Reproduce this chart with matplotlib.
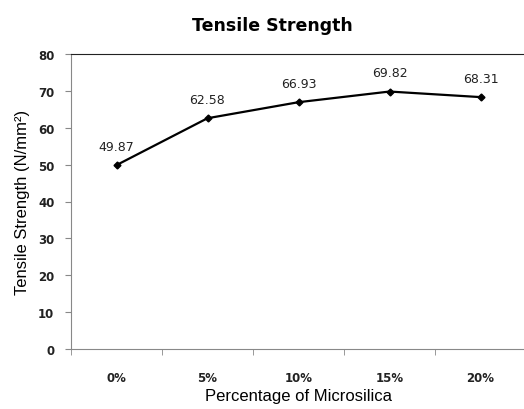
import matplotlib
matplotlib.use("Agg")
import matplotlib.pyplot as plt

# Data
categories = ["0%", "5%", "10%", "15%", "20%"]
strength = [49.87, 62.58, 66.93, 69.82, 68.31]
y_ticks = [0, 10, 20, 30, 40, 50, 60, 70, 80]

fig = plt.figure(figsize=(5.24, 4.10), dpi=100)
ax = fig.add_axes([71 / 524, 1 - 350 / 410, 455 / 524, 295 / 410])

x = list(range(len(categories)))
ax.plot(x, strength, color="black", linewidth=1.6, marker="D", markersize=3.5)

for xi, v in zip(x, strength):
    ax.annotate(f"{v:.2f}", (xi, v), xytext=(0, 9), textcoords="offset points",
                ha="center", va="bottom", fontsize=9, color="#222222")

ax.set_xlim(-0.5, len(categories) - 0.5)
ax.set_ylim(0, 80)
ax.set_yticks(y_ticks)
ax.set_xticks(x)
ax.set_xticklabels(categories)
ax.set_xticks([i - 0.5 for i in range(len(categories) + 1)], minor=True)
ax.tick_params(axis="x", which="major", length=0, pad=16, labelsize=8.5)
ax.tick_params(axis="x", which="minor", length=4, color="#888888", direction="out")
ax.tick_params(axis="y", length=4, color="#888888", labelsize=8.5, pad=8)
for lab in ax.get_xticklabels() + ax.get_yticklabels():
    lab.set_color("#222222")
    lab.set_fontweight("semibold")

ax.spines["right"].set_visible(False)
ax.spines["left"].set_color("#888888")
ax.spines["bottom"].set_color("#888888")
ax.spines["top"].set_color("#222222")

ax.set_xlabel("Percentage of Microsilica", fontsize=12, family="Liberation Sans", labelpad=3)
ax.set_ylabel("Tensile Strength (N/mm²)", fontsize=12, family="Liberation Sans", labelpad=6)
fig.text(272 / 524, 1 - 26 / 410, "Tensile Strength", ha="center", va="center",
         fontsize=12.5, fontweight="bold", family="DejaVu Sans")

fig.savefig("out.png", dpi=100)
